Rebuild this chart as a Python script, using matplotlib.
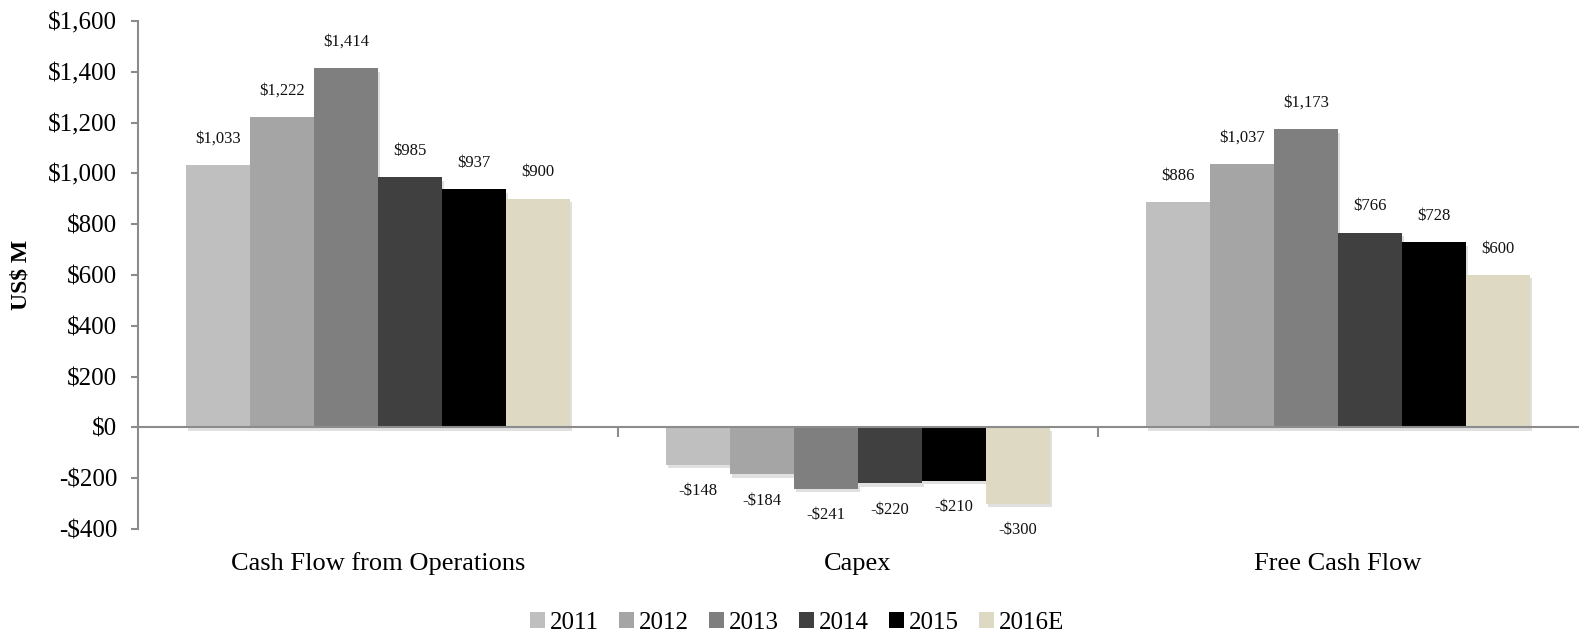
import matplotlib
matplotlib.use("Agg")
import matplotlib.pyplot as plt
import matplotlib.patheffects as pe
from matplotlib.patches import Patch
import numpy as np

categories = ["Cash Flow from Operations", "Capex", "Free Cash Flow"]
years = ["2011", "2012", "2013", "2014", "2015", "2016E"]
values = {
    "2011": [1033, -148, 886],
    "2012": [1222, -184, 1037],
    "2013": [1414, -241, 1173],
    "2014": [985, -220, 766],
    "2015": [937, -210, 728],
    "2016E": [900, -300, 600],
}
colors = ["#BFBFBF", "#A5A5A5", "#7F7F7F", "#404040", "#000000", "#DDD9C3"]
yticks = [-400, -200, 0, 200, 400, 600, 800, 1000, 1200, 1400, 1600]

plt.rcParams['font.family'] = ['Liberation Serif', 'DejaVu Serif']

fig = plt.figure(figsize=(15.85, 6.35), dpi=100)
ax = fig.add_axes([138/1585, 1-529/635, (1578-138)/1585, (529-21)/635])

n = len(years)
w = 0.8 / n
x = np.arange(len(categories))
shadow = [pe.SimplePatchShadow(offset=(1.5, -2.5), alpha=0.12, shadow_rgbFace='black'), pe.Normal()]
for i, (yr, c) in enumerate(zip(years, colors)):
    pos = x + (i - (n - 1) / 2) * w
    bars = ax.bar(pos, values[yr], width=w, color=c, zorder=2)
    for b in bars:
        b.set_path_effects(shadow)
    for xp, v in zip(pos, values[yr]):
        lab = f"${v:,}" if v >= 0 else f"-${-v:,}"
        off = 19 if v >= 0 else -19
        ax.annotate(lab, (xp, v), xytext=(0, off), textcoords="offset points",
                    ha="center", va="center", fontsize=12, color="#111111")

ax.set_xlim(-0.5, len(categories) - 0.5)
ax.set_ylim(-400, 1600)
ax.set_yticks(yticks)
ax.set_yticklabels([f"${t:,}" if t >= 0 else f"-${-t:,}" for t in yticks], fontsize=18)
ax.tick_params(axis='y', length=5, width=1.5, color="#8C8C8C", pad=10)

for s in ["top", "right"]:
    ax.spines[s].set_visible(False)
ax.spines["left"].set_color("#8C8C8C")
ax.spines["left"].set_linewidth(1.5)
ax.spines["bottom"].set_position(("data", 0))
ax.spines["bottom"].set_color("#8C8C8C")
ax.spines["bottom"].set_linewidth(1.5)
ax.spines["bottom"].set_zorder(3)
ax.set_xticks(x[:-1] + 0.5)
ax.set_xticklabels([])
ax.tick_params(axis='x', length=7, width=1.5, color="#8C8C8C", direction="out")

for xi, cat in zip(x, categories):
    ax.text(xi, -0.068, cat, transform=ax.get_xaxis_transform(), ha="center", va="center",
            fontsize=19)

ax.set_ylabel("US$ M", fontsize=17, fontweight="bold", labelpad=12)

handles = [Patch(facecolor=c, label=yr) for yr, c in zip(years, colors)]
fig.legend(handles=handles, loc="center", bbox_to_anchor=(797/1585, 1-623/635), ncol=6,
           frameon=False, fontsize=18, handlelength=0.6, handleheight=0.6,
           handletextpad=0.2, columnspacing=0.8, borderpad=0)

fig.savefig("out.png", dpi=100)
